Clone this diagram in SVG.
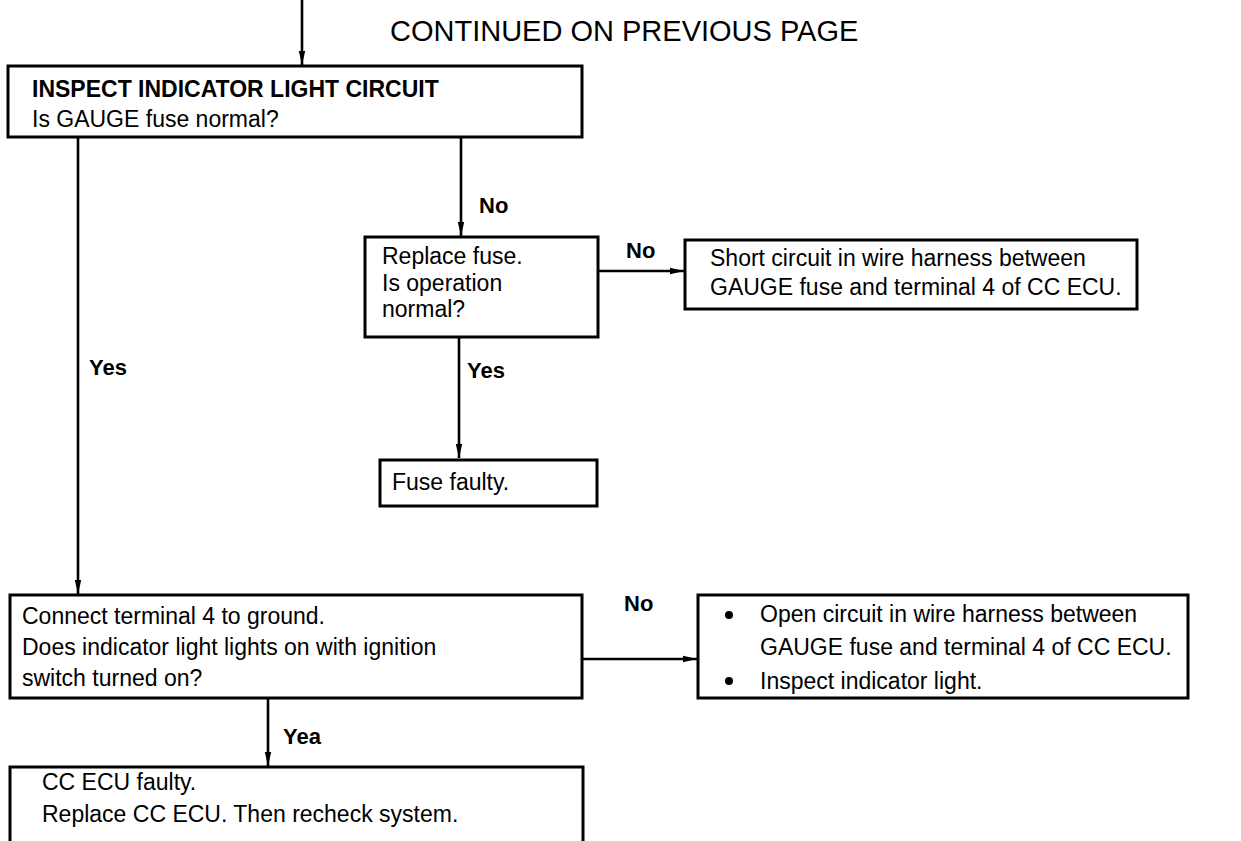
<svg xmlns="http://www.w3.org/2000/svg" width="1241" height="841" viewBox="0 0 1241 841">
  <style>
    .box { fill: #fff; stroke: #000; stroke-width: 3; }
    .wire { fill: none; stroke: #000; stroke-width: 2.6; }
    .t { font-family: "Liberation Sans", Arial, sans-serif; font-size: 23px; fill: #000; }
    .b { font-family: "Liberation Sans", Arial, sans-serif; font-size: 22px; font-weight: bold; fill: #000; }
    .title { font-family: "Liberation Sans", Arial, sans-serif; font-size: 23px; font-weight: bold; fill: #000; }
    .hdr { font-family: "Liberation Sans", Arial, sans-serif; font-size: 29px; fill: #000; }
  </style>
  <defs>
    <!-- slim filled arrowhead used on every flow line -->
    <marker id="ah" viewBox="0 0 14 8" refX="14" refY="4" markerWidth="14" markerHeight="8" markerUnits="userSpaceOnUse" orient="auto">
      <path d="M0,0.8 L14,4 L0,7.2 Z" fill="#000"/>
    </marker>
  </defs>
  <rect width="1241" height="841" fill="#fff"/>

  <text class="hdr" x="390" y="41">CONTINUED ON PREVIOUS PAGE</text>

  <g id="connectors">
    <path class="wire" d="M302,0 V65" marker-end="url(#ah)"/>
    <path class="wire" d="M78,137 V594" marker-end="url(#ah)"/>
    <path class="wire" d="M461,137 V236" marker-end="url(#ah)"/>
    <path class="wire" d="M598,271 H684" marker-end="url(#ah)"/>
    <path class="wire" d="M459,337 V458" marker-end="url(#ah)"/>
    <path class="wire" d="M582,659 H697" marker-end="url(#ah)"/>
    <path class="wire" d="M268,698 V766" marker-end="url(#ah)"/>
    <text class="b" x="89" y="375">Yes</text>
    <text class="b" x="479" y="213">No</text>
    <text class="b" x="626" y="258">No</text>
    <text class="b" x="467" y="378">Yes</text>
    <text class="b" x="624" y="611">No</text>
    <text class="b" x="283" y="744">Yea</text>
  </g>

  <g id="inspect">
    <rect class="box" x="8" y="66" width="574" height="71"/>
    <text class="title" x="32" y="97">INSPECT INDICATOR LIGHT CIRCUIT</text>
    <text class="t" x="32" y="127">Is GAUGE fuse normal?</text>
  </g>

  <g id="replace-fuse">
    <rect class="box" x="365" y="237" width="233" height="100"/>
    <text class="t" x="382" y="264">Replace fuse.</text>
    <text class="t" x="382" y="291">Is operation</text>
    <text class="t" x="382" y="317">normal?</text>
  </g>

  <g id="short-circuit">
    <rect class="box" x="685" y="240" width="452" height="69"/>
    <text class="t" x="710" y="266">Short circuit in wire harness between</text>
    <text class="t" x="710" y="295">GAUGE fuse and terminal 4 of CC ECU.</text>
  </g>

  <g id="fuse-faulty">
    <rect class="box" x="380" y="460" width="217" height="46"/>
    <text class="t" x="392" y="490">Fuse faulty.</text>
  </g>

  <g id="ground-test">
    <rect class="box" x="10" y="595" width="572" height="103"/>
    <text class="t" x="22" y="624">Connect terminal 4 to ground.</text>
    <text class="t" x="22" y="655">Does indicator light lights on with ignition</text>
    <text class="t" x="22" y="686">switch turned on?</text>
  </g>

  <g id="open-circuit">
    <rect class="box" x="698" y="595" width="490" height="103"/>
    <circle cx="729" cy="615" r="4" fill="#000"/>
    <text class="t" x="760" y="622">Open circuit in wire harness between</text>
    <text class="t" x="760" y="655">GAUGE fuse and terminal 4 of CC ECU.</text>
    <circle cx="729" cy="681" r="4" fill="#000"/>
    <text class="t" x="760" y="689">Inspect indicator light.</text>
  </g>

  <g id="ecu-faulty">
    <rect class="box" x="10" y="767" width="573" height="82"/>
    <text class="t" x="42" y="790">CC ECU faulty.</text>
    <text class="t" x="42" y="822">Replace CC ECU. Then recheck system.</text>
  </g>
</svg>
